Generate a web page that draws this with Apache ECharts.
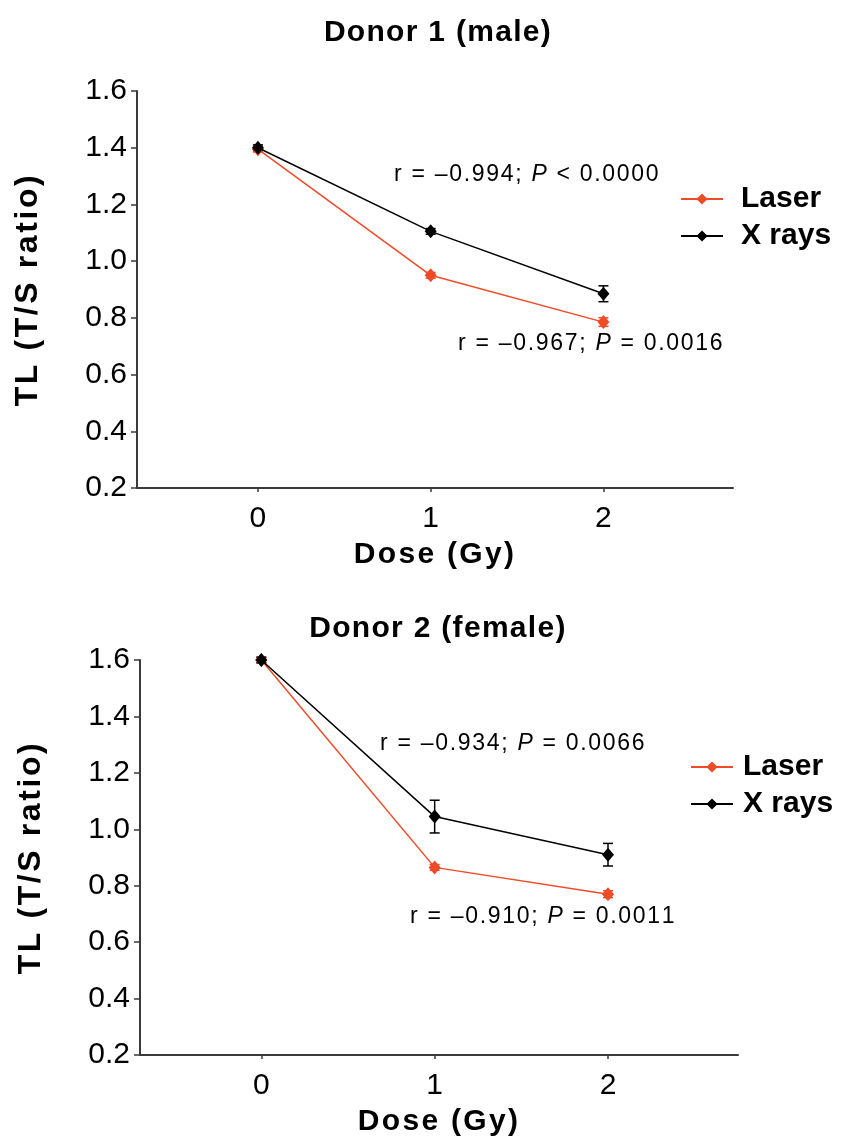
<!DOCTYPE html>
<html><head><meta charset="utf-8">
<script src="https://cdn.jsdelivr.net/npm/echarts@6/dist/echarts.min.js"></script>
<style>html,body{margin:0;padding:0;background:#fff}#c{width:843px;height:1143px}</style>
</head><body><div id="c"></div>
<script>
const doses = [0, 1, 2];
const yTicks = [0.2, 0.4, 0.6, 0.8, 1.0, 1.2, 1.4, 1.6];
const d1Laser = [1.395, 0.95, 0.785];
const d1LaserErr = [0.01, 0.01, 0.015];
const d1Xray = [1.40, 1.105, 0.885];
const d1XrayErr = [0.01, 0.01, 0.028];
const d2Laser = [1.60, 0.865, 0.77];
const d2LaserErr = [0.01, 0.01, 0.012];
const d2Xray = [1.60, 1.045, 0.91];
const d2XrayErr = [0.01, 0.058, 0.04];
const titles = ['Donor 1 (male)', 'Donor 2 (female)'];
const xName = 'Dose (Gy)';
const yName = 'TL (T/S ratio)';
const stats = [
  ['r = \u20130.994; ', 'P', ' < 0.0000'],
  ['r = \u20130.967; ', 'P', ' = 0.0016'],
  ['r = \u20130.934; ', 'P', ' = 0.0066'],
  ['r = \u20130.910; ', 'P', ' = 0.0011']
];

const RED = '#f04a26', BLACK = '#000', AXIS = '#3a3a3a';
const FONT = '"Liberation Sans", Arial, sans-serif';

// per-character rich segments, to imitate the reference's letter spacing
function spaced(str, key) {
  return Array.from(str).map(c => '{' + key + '|' + c + '}').join('');
}
function boldRich(size, ls) {
  return { s: { fontSize: size, fontWeight: 'bold', color: '#000', fontFamily: FONT, padding: [0, ls, 0, 0] } };
}

function pts(vals) { return doses.map((d, i) => [d, vals[i]]); }
function errs(vals, e) { return doses.map((d, i) => [d, vals[i], e[i]]); }

function errSeries(idx, vals, e, color) {
  return {
    type: 'custom', xAxisIndex: idx, yAxisIndex: idx, z: 1,
    data: errs(vals, e), silent: true,
    renderItem: function (params, api) {
      const x = api.value(0), y = api.value(1), er = api.value(2);
      const hi = api.coord([x, y + er]);
      const lo = api.coord([x, y - er]);
      const cw = 5;
      const st = { stroke: color, lineWidth: 1.5 };
      return { type: 'group', children: [
        { type: 'line', shape: { x1: hi[0], y1: hi[1], x2: lo[0], y2: lo[1] }, style: st },
        { type: 'line', shape: { x1: hi[0] - cw, y1: hi[1], x2: hi[0] + cw, y2: hi[1] }, style: st },
        { type: 'line', shape: { x1: lo[0] - cw, y1: lo[1], x2: lo[0] + cw, y2: lo[1] }, style: st }
      ]};
    }
  };
}
function lineSeries(idx, name, vals, color, z) {
  return {
    type: 'line', name: name, xAxisIndex: idx, yAxisIndex: idx, z: z,
    data: pts(vals), symbol: 'diamond', symbolSize: [12, 14],
    itemStyle: { color: color }, lineStyle: { color: color, width: 1.5 },
    emphasis: { disabled: true }
  };
}
function xAx(idx) {
  return {
    type: 'value', gridIndex: idx, min: -0.7, max: 2.75,
    splitLine: { show: false },
    axisLine: { onZero: false, lineStyle: { color: AXIS, width: 2 } },
    axisTick: { customValues: doses, length: 4, lineStyle: { color: AXIS, width: 1.5 } },
    axisLabel: { customValues: doses, margin: 16, fontSize: 30, color: '#000', fontFamily: FONT },
    name: spaced(xName, 's'), nameLocation: 'middle', nameGap: 52,
    nameTextStyle: { rich: boldRich(30, 2.3) }
  };
}
function yAx(idx) {
  return {
    type: 'value', gridIndex: idx, min: 0.2, max: 1.6, interval: 0.2,
    splitLine: { show: false },
    axisLine: { show: true, onZero: false, lineStyle: { color: AXIS, width: 2 } },
    axisTick: { show: true, length: 6, lineStyle: { color: AXIS, width: 1.5 } },
    axisLabel: { margin: 10, fontSize: 30, color: '#000', fontFamily: FONT,
      formatter: v => yTicks.find(t => Math.abs(t - v) < 1e-6).toFixed(1) },
    name: spaced(yName, 's'), nameLocation: 'middle', nameGap: 93,
    nameTextStyle: { rich: boldRich(32, 2.6) }
  };
}
function statText(i, left, top) {
  const s = stats[i];
  const ls = 1.7;
  return {
    type: 'text', left: left, top: top, z: 10,
    style: {
      text: spaced(s[0], 'a') + spaced(s[1], 'b') + spaced(s[2], 'a'),
      rich: {
        a: { fontSize: 23, fontFamily: FONT, fill: '#000', padding: [0, ls, 0, 0] },
        b: { fontSize: 23, fontFamily: FONT, fontStyle: 'italic', fill: '#000', padding: [0, ls, 0, 0] }
      }
    }
  };
}
const legendCommon = {
  orient: 'vertical', itemWidth: 42, itemHeight: 14, itemGap: 7,
  data: ['Laser', 'X rays'], selectedMode: false
};
function legendText(pad) {
  return { fontSize: 30, fontWeight: 'bold', color: '#000', fontFamily: FONT, padding: [0, 0, 0, pad] };
}
function titleOpt(i, top) {
  return { text: spaced(titles[i], 's'), left: 433, top: top, textAlign: 'center',
    textStyle: { rich: boldRich(30, 1.3) } };
}

const chart = echarts.init(document.getElementById('c'), null, { renderer: 'canvas' });
chart.setOption({
  animation: false,
  title: [titleOpt(0, 13), titleOpt(1, 609)],
  legend: [
    Object.assign({ left: 675, top: 179, textStyle: legendText(13) }, legendCommon),
    Object.assign({ left: 685, top: 747, textStyle: legendText(5) }, legendCommon)
  ],
  grid: [
    { left: 137, top: 91, width: 596, height: 397 },
    { left: 140, top: 660, width: 598, height: 395 }
  ],
  xAxis: [xAx(0), xAx(1)],
  yAxis: [yAx(0), yAx(1)],
  graphic: [
    statText(0, 394, 163),
    statText(1, 458, 332),
    statText(2, 380, 732),
    statText(3, 410, 905)
  ],
  series: [
    errSeries(0, d1Laser, d1LaserErr, RED),
    errSeries(0, d1Xray, d1XrayErr, BLACK),
    lineSeries(0, 'Laser', d1Laser, RED, 3),
    lineSeries(0, 'X rays', d1Xray, BLACK, 4),
    errSeries(1, d2Laser, d2LaserErr, RED),
    errSeries(1, d2Xray, d2XrayErr, BLACK),
    lineSeries(1, 'Laser', d2Laser, RED, 3),
    lineSeries(1, 'X rays', d2Xray, BLACK, 4)
  ]
});
</script></body></html>
